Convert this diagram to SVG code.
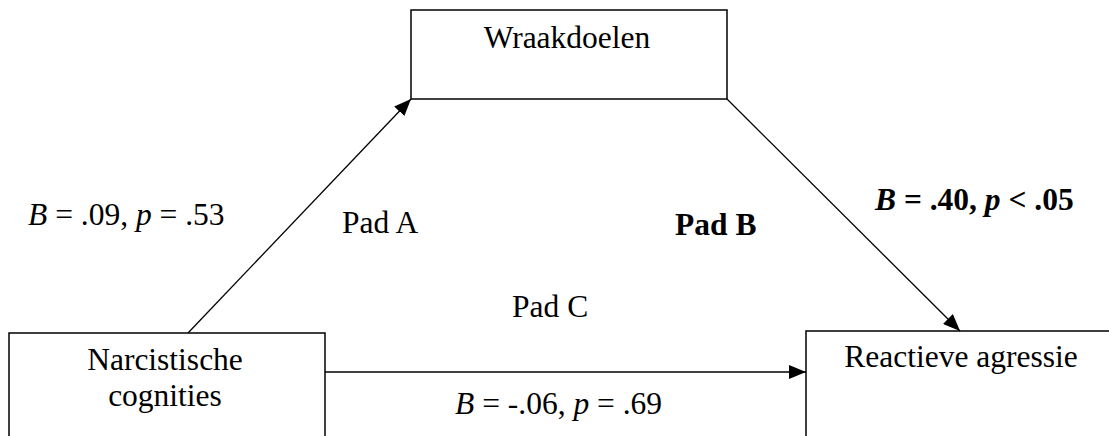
<svg xmlns="http://www.w3.org/2000/svg" width="1109" height="436" viewBox="0 0 1109 436">
  <style>
    .box { fill: #ffffff; stroke: #000000; stroke-width: 1.5; }
    .edge { fill: none; stroke: #000000; stroke-width: 1.3; }
    text { font-family: "Liberation Serif", "Times New Roman", serif; font-size: 31.5px; fill: #000000; }
    .b { font-weight: bold; }
    .i { font-style: italic; }
  </style>
  <defs>
    <marker id="arrow" markerUnits="userSpaceOnUse" markerWidth="18" markerHeight="14" refX="17" refY="7" orient="auto">
      <path d="M0,0 L17,7 L0,14 Z" fill="#000000"/>
    </marker>
  </defs>
  <rect width="1109" height="436" fill="#ffffff"/>

  <g id="node-wraakdoelen">
    <rect class="box" x="411" y="10" width="316" height="89"/>
    <text x="567" y="48" text-anchor="middle">Wraakdoelen</text>
  </g>

  <g id="node-narcistische">
    <rect class="box" x="9" y="333" width="316" height="120"/>
    <text x="165" y="370" text-anchor="middle">Narcistische</text>
    <text x="165" y="406" text-anchor="middle">cognities</text>
  </g>

  <g id="node-reactieve">
    <rect class="box" x="806" y="331" width="320" height="120"/>
    <text x="961" y="367" text-anchor="middle">Reactieve agressie</text>
  </g>

  <g id="connectors">
    <line class="edge" x1="188" y1="333" x2="411" y2="99" marker-end="url(#arrow)"/>
    <line class="edge" x1="727" y1="99" x2="960" y2="331" marker-end="url(#arrow)"/>
    <line class="edge" x1="325" y1="372" x2="806" y2="372" marker-end="url(#arrow)"/>
  </g>

  <g id="labels">
    <text x="28" y="225"><tspan class="i">B</tspan> = .09, <tspan class="i">p</tspan> = .53</text>
    <text x="342" y="233">Pad A</text>
    <text class="b" x="675" y="235">Pad B</text>
    <text class="b" x="875" y="210"><tspan class="i">B</tspan> = .40, <tspan class="i">p</tspan> &lt; .05</text>
    <text x="512" y="317">Pad C</text>
    <text x="455" y="414"><tspan class="i">B</tspan> = -.06, <tspan class="i">p</tspan> = .69</text>
  </g>
</svg>
